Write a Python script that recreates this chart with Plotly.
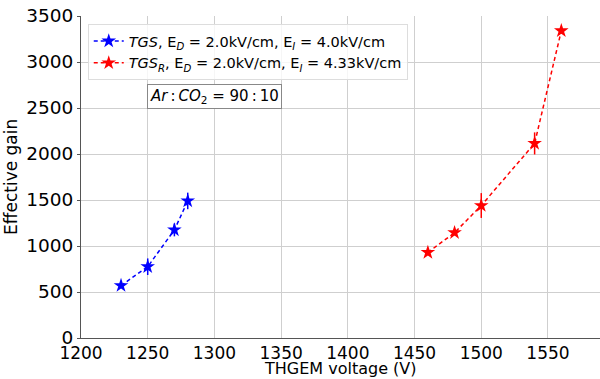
import plotly.graph_objects as go

tgs_v = [1230, 1250, 1270, 1280]
tgs_gain = [570, 775, 1175, 1490]
tgs_err = [25, 90, 70, 90]

tgsr_v = [1460, 1480, 1500, 1540, 1560]
tgsr_gain = [930, 1145, 1440, 2115, 3340]
tgsr_err = [30, 30, 135, 120, 30]

x_ticks = [1200, 1250, 1300, 1350, 1400, 1450, 1500, 1550]
y_ticks = [0, 500, 1000, 1500, 2000, 2500, 3000, 3500]

FONT = "DejaVu Sans"

fig = go.Figure()
fig.add_trace(go.Scatter(
    x=tgs_v, y=tgs_gain,
    error_y=dict(type="data", array=tgs_err, color="blue", thickness=1.5, width=0),
    mode="lines+markers",
    line=dict(color="blue", dash="4px,3px", width=1.5),
    marker=dict(symbol="star", size=11, color="blue"),
    name="<i>TGS</i>, E<sub><i>D</i></sub> = 2.0kV/cm, E<sub><i>I</i></sub> = 4.0kV/cm",
))
fig.add_trace(go.Scatter(
    x=tgsr_v, y=tgsr_gain,
    error_y=dict(type="data", array=tgsr_err, color="red", thickness=1.5, width=0),
    mode="lines+markers",
    line=dict(color="red", dash="4px,3px", width=1.5),
    marker=dict(symbol="star", size=11, color="red"),
    name="<i>TGS<sub>R</sub></i>, E<sub><i>D</i></sub> = 2.0kV/cm, E<sub><i>I</i></sub> = 4.33kV/cm",
))

fig.add_annotation(
    x=0.127, y=0.75, xref="paper", yref="paper", xanchor="left", yanchor="middle",
    text="<i>Ar</i>&#8201;:&#8201;<i>CO</i><sub>2</sub> = 90&#8201;:&#8201;10",
    showarrow=False, font=dict(family=FONT, size=15, color="black"),
    bordercolor="#888", borderwidth=1, borderpad=2, bgcolor="white",
)

# axis titles placed as annotations for precise positioning
fig.add_annotation(
    x=0.5, y=-41 / 322, xref="paper", yref="paper", xanchor="center", yanchor="bottom",
    text="THGEM voltage (V)", showarrow=False, font=dict(family=FONT, size=16, color="black"),
    borderpad=0,
)
fig.add_annotation(
    x=-70 / 519, y=0.5, xref="paper", yref="paper", xanchor="center", yanchor="middle",
    text="Effective gain", textangle=-90, showarrow=False,
    font=dict(family=FONT, size=17, color="black"),
)

fig.update_layout(
    width=600, height=379,
    margin=dict(l=81, r=0, t=16, b=41),
    paper_bgcolor="white", plot_bgcolor="white",
    font=dict(family=FONT, size=18, color="black"),
    showlegend=True,
    legend=dict(
        x=0.013, y=0.975, xanchor="left", yanchor="top",
        bgcolor="rgba(255,255,255,0.8)", bordercolor="#ddd", borderwidth=1,
        font=dict(family=FONT, size=14.5), tracegroupgap=0,
    ),
    xaxis=dict(
        range=[1200, 1589], tickvals=x_ticks, ticktext=[str(t) for t in x_ticks],
        showgrid=True, gridcolor="#cfcfcf", gridwidth=1,
        showline=True, linecolor="#555", linewidth=1, mirror=False,
        ticks="", ticklabelstandoff=0,
        tickfont=dict(size=17), automargin=False,
        zeroline=False,
    ),
    yaxis=dict(
        range=[0, 3500], tickvals=y_ticks, ticktext=[str(t) for t in y_ticks],
        showgrid=True, gridcolor="#cfcfcf", gridwidth=1,
        showline=True, linecolor="#555", linewidth=1, mirror=True,
        ticks="outside", ticklen=3, tickcolor="#555",
        tickfont=dict(size=18.5), automargin=False,
        zeroline=False,
    ),
)

fig.write_html("out.html")
